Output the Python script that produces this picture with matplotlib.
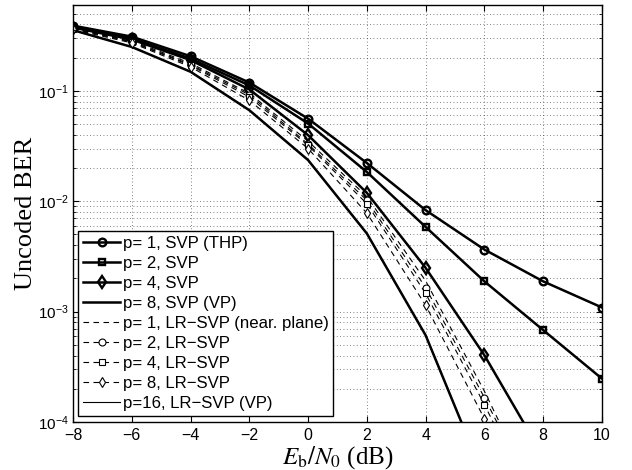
import matplotlib
matplotlib.use("Agg")
import math
import matplotlib.pyplot as plt
from matplotlib.ticker import LogLocator, FixedLocator, FuncFormatter, NullFormatter

# ---- data ----
ebn0 = [-8, -6, -4, -2, 0, 2, 4, 6, 8, 10]
svp_p1 = [0.39, 0.31, 0.206, 0.119, 0.056, 0.0222, 0.0083, 0.00365, 0.00188, 0.00109]
svp_p2 = [0.38, 0.298, 0.196, 0.112, 0.0506, 0.0184, 0.00585, 0.00188, 0.00068, 0.000247]
svp_p4 = [0.375, 0.292, 0.19, 0.103, 0.0397, 0.0119, 0.00249, 0.000402, 4.9e-5, 5e-6]
svp_p8_vp = [0.355, 0.25, 0.149, 0.0668, 0.0236, 0.0051, 0.00061, 3.1e-5, 1e-6, 1e-7]
lr_p1 = [0.37, 0.285, 0.178, 0.095, 0.035, 0.011, 0.0019, 0.00019, 1.5e-5, 1e-6]
lr_p2 = [0.368, 0.28, 0.173, 0.092, 0.033, 0.0102, 0.00165, 0.000166, 1.5e-5, 1e-6]
lr_p4 = [0.365, 0.277, 0.17, 0.088, 0.032, 0.0095, 0.00146, 0.000144, 1.2e-5, 1e-6]
lr_p8 = [0.36, 0.272, 0.165, 0.082, 0.030, 0.0078, 0.00114, 0.000107, 8e-6, 1e-6]
lr_p16_vp = svp_p8_vp

labels = ["p= 1, SVP (THP)", "p= 2, SVP", "p= 4, SVP", "p= 8, SVP (VP)",
          "p= 1, LR\u2212SVP (near. plane)", "p= 2, LR\u2212SVP", "p= 4, LR\u2212SVP",
          "p= 8, LR\u2212SVP", "p=16, LR\u2212SVP (VP)"]
xticks = [-8, -6, -4, -2, 0, 2, 4, 6, 8, 10]
yticks = [1e-4, 1e-3, 1e-2, 1e-1]

plt.rcParams['font.family'] = ['Liberation Sans', 'DejaVu Sans']
plt.rcParams['mathtext.fontset'] = 'custom'
plt.rcParams['mathtext.rm'] = 'Liberation Sans'
plt.rcParams['mathtext.it'] = 'Liberation Sans:italic'
plt.rcParams['mathtext.bf'] = 'Liberation Sans:bold'

fig = plt.figure(figsize=(6.32, 4.70), dpi=100)
ax = fig.add_axes([0.1155, 0.1021, 0.9525 - 0.1155, 0.9894 - 0.1021])

thick = 1.8
thin = 0.8
dash = (5, 4)

ax.plot(ebn0, svp_p1, '-', color='k', lw=thick, marker='o', ms=5.5, mfc='none', mew=1.7, label=labels[0])
ax.plot(ebn0, svp_p2, '-', color='k', lw=thick, marker='s', ms=5.0, mfc='none', mew=1.7, label=labels[1])
ax.plot(ebn0, svp_p4, '-', color='k', lw=thick, marker='d', ms=6.0, mfc='none', mew=1.7, label=labels[2])
ax.plot(ebn0, svp_p8_vp, '-', color='k', lw=thick, label=labels[3])
l1, = ax.plot(ebn0, lr_p1, color='k', lw=thin, label=labels[4])
l2, = ax.plot(ebn0, lr_p2, color='k', lw=thin, marker='o', ms=5, mfc='white', mew=0.8, label=labels[5])
l3, = ax.plot(ebn0, lr_p4, color='k', lw=thin, marker='s', ms=4.5, mfc='white', mew=0.8, label=labels[6])
l4, = ax.plot(ebn0, lr_p8, color='k', lw=thin, marker='d', ms=5.5, mfc='white', mew=0.8, label=labels[7])
for l in (l1, l2, l3, l4):
    l.set_dashes(dash)
ax.plot(ebn0, lr_p16_vp, '-', color='k', lw=thin, label=labels[8])

ax.set_yscale('log')
ax.set_xlim(-8, 10)
ax.set_ylim(1e-4, 0.6)
ax.xaxis.set_major_locator(FixedLocator(xticks))
ax.yaxis.set_major_locator(FixedLocator(yticks))
ax.yaxis.set_minor_locator(LogLocator(base=10, subs=range(2, 10)))
ax.yaxis.set_minor_formatter(NullFormatter())

def yfmt(v, pos):
    e = int(round(math.log10(v)))
    return r'$10^{%d}$' % e
ax.yaxis.set_major_formatter(FuncFormatter(yfmt))

ax.tick_params(which='both', direction='in', top=True, right=True)
ax.tick_params(axis='x', which='major', length=4, pad=4, labelsize=11.5)
ax.tick_params(axis='y', which='major', length=4, pad=3, labelsize=11)
ax.tick_params(which='minor', length=2)
for s in ax.spines.values():
    s.set_linewidth(1.0)

gridkw = dict(color='k', linestyle=(0, (1, 3)), linewidth=0.6, alpha=0.65)
ax.grid(True, which='major', axis='both', **gridkw)
ax.grid(True, which='minor', axis='y', **gridkw)
ax.set_axisbelow(True)

ax.set_ylabel('Uncoded BER', family=['Liberation Serif', 'DejaVu Serif'], fontsize=19, labelpad=1)
ax.set_xlabel(r'$E_{\mathrm{b}}/N_0$ (dB)', family=['Liberation Serif', 'DejaVu Serif'],
              fontsize=18, math_fontfamily='stix', labelpad=1)

leg = ax.legend(loc='lower left', bbox_to_anchor=(0.0095, 0.0144), borderaxespad=0,
                fontsize=12.1, handlelength=2.2, handletextpad=0.15, labelspacing=0.3,
                borderpad=0.3, fancybox=False, framealpha=1, edgecolor='k')
leg.get_frame().set_linewidth(1.0)

fig.savefig('out.png', dpi=100)
